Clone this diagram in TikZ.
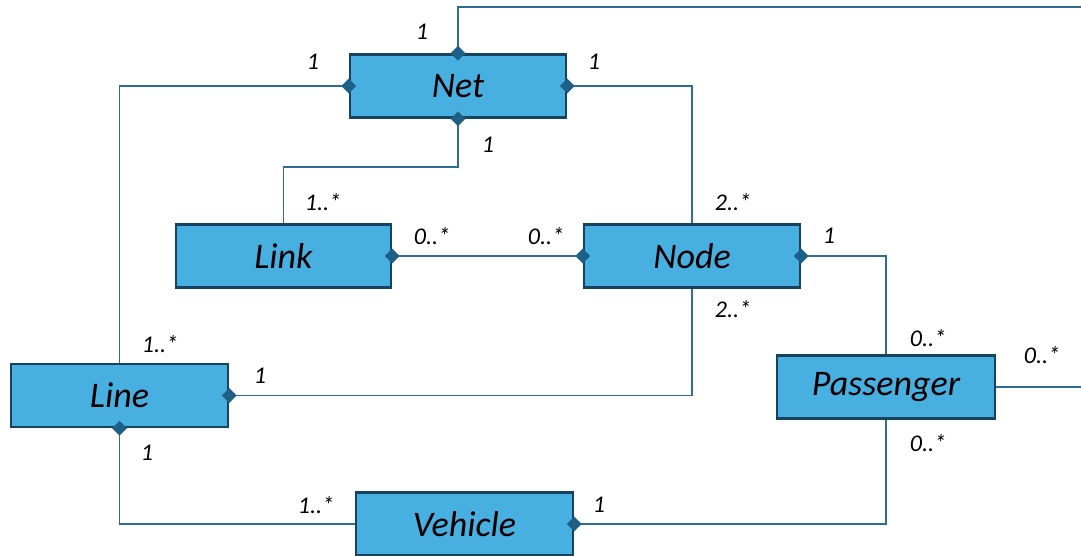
\documentclass[tikz,border=0pt]{standalone}
\usepackage{fontspec}
\setmainfont{Carlito}
\usetikzlibrary{shapes.geometric}
\definecolor{boxfill}{HTML}{47B0E0}
\definecolor{boxline}{HTML}{17435F}
\definecolor{conn}{HTML}{2F6C93}
\definecolor{diacol}{HTML}{1E5F85}
\tikzset{
  cls/.style={draw=boxline, line width=2.5pt, fill=boxfill, minimum width=#1, minimum height=63pt, inner sep=0pt,
    font=\fontsize{36}{42}\selectfont\itshape},
  cls/.default=216pt,
  dia/.style={diamond, fill=diacol, inner sep=0pt, minimum width=15pt, minimum height=15pt},
  assoc/.style={draw=conn, line width=1.5pt},
  mult/.style={font=\fontsize{24}{28}\selectfont\itshape, inner sep=0pt}
}
\begin{document}
\begin{tikzpicture}[x=1pt,y=-1pt]
\useasboundingbox (0,0) rectangle (1081,556);
\clip (0,0) rectangle (1081,556);
% classes
\node[cls=216pt] (net) at (458,86) {Net};
\node[cls=215pt] (link) at (283.5,256) {Link};
\node[cls=216pt] (nd) at (692,256) {Node};
\node[cls=217pt] (line) at (119.5,395.5) {Line};
\node[cls=218pt] (pass) at (886,387) {Passenger};
\node[cls=217pt] (veh) at (464.5,524) {Vehicle};
% helper coordinates
\coordinate (tr) at (1095,7);
\coordinate (br) at (1095,387);
% connectors
\draw[assoc] (net.north) |- (tr) -- (br) -- (pass.east);
\draw[assoc] (net.west) -| (line.north);
\draw[assoc] (net.east) -| (nd.north);
\coordinate (nlk) at (458,167);
\draw[assoc] (net.south) -- (nlk) -| (link.north);
\draw[assoc] (link.east) -- (nd.west);
\draw[assoc] (nd.south) |- (line.east);
\draw[assoc] (nd.east) -| (pass.north);
\draw[assoc] (line.south) |- (veh.west);
\draw[assoc] (veh.east) -| (pass.south);
% diamonds
\node[dia] (d1) at (net.north) {};
\node[dia] (d2) at (net.west) {};
\node[dia] (d3) at (net.east) {};
\node[dia] (d4) at (net.south) {};
\node[dia] (d5) at (link.east) {};
\node[dia] (d6) at (nd.west) {};
\node[dia] (d7) at (nd.east) {};
\node[dia] (d8) at (line.east) {};
\node[dia] (d9) at (line.south) {};
\node[dia] (d10) at (veh.east) {};
% multiplicities
\node[mult] (m1) at (422,32) {1};
\node[mult] (m2) at (313,62) {1};
\node[mult] (m3) at (594,62) {1};
\node[mult] (m4) at (488,145) {1};
\node[mult] (m5) at (323,202) {1..*};
\node[mult] (m6) at (733,202) {2..*};
\node[mult] (m7) at (432,236) {0..*};
\node[mult] (m8) at (546,236) {0..*};
\node[mult] (m9) at (829,236) {1};
\node[mult] (m10) at (733,309) {2..*};
\node[mult] (m11) at (928,338) {0..*};
\node[mult] (m12) at (160,344) {1..*};
\node[mult] (m13) at (1042,355) {0..*};
\node[mult] (m14) at (260,376) {1};
\node[mult] (m15) at (928,443) {0..*};
\node[mult] (m16) at (147,453) {1};
\node[mult] (m17) at (316,505) {1..*};
\node[mult] (m18) at (599,505) {1};
\end{tikzpicture}
\end{document}
